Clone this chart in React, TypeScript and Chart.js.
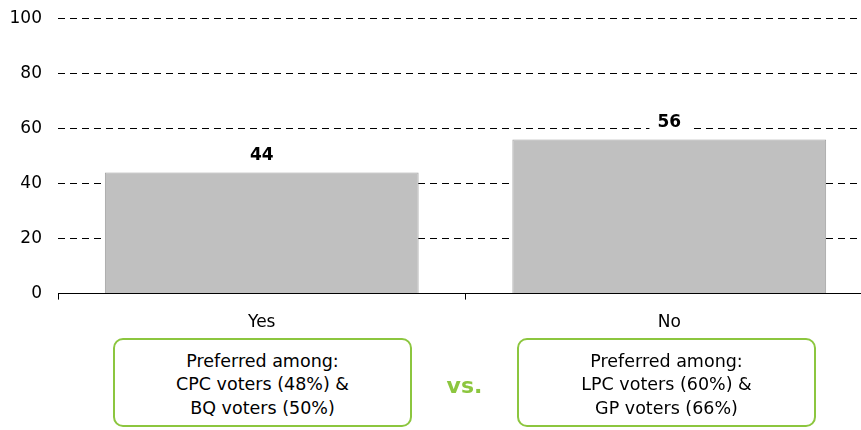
import React, { useEffect, useRef } from "react";
import { Chart, registerables } from "chart.js";

Chart.register(...registerables);

const categories = ["Yes", "No"];
const values = [44, 56];
const yTicks = [0, 20, 40, 60, 80, 100];
const boxLines = [
  ["Preferred among:", "CPC voters (48%) &", "BQ voters (50%)"],
  ["Preferred among:", "LPC voters (60%) &", "GP voters (66%)"],
];
const vsLabel = "vs.";

const FONT = "'DejaVu Sans', Verdana, sans-serif";
const GREEN = "#8cc63f";

const labelPlugin = {
  id: "barLabels",
  afterDatasetsDraw(chart: any) {
    const ctx = chart.ctx;
    const meta = chart.getDatasetMeta(0);
    ctx.save();
    ctx.font = `bold 17px ${FONT}`;
    ctx.textAlign = "center";
    ctx.textBaseline = "middle";
    meta.data.forEach((bar: any, i: number) => {
      const txt = String(values[i]);
      const w = ctx.measureText(txt).width;
      const cy = bar.y - 17;
      ctx.fillStyle = "#ffffff";
      ctx.fillRect(bar.x - w / 2 - 8, cy - 10, w + 16, 20);
      ctx.fillStyle = "#000000";
      ctx.fillText(txt, bar.x, cy);
    });
    ctx.restore();
  },
};

export default function App() {
  const ref = useRef<HTMLCanvasElement>(null);
  useEffect(() => {
    if (!ref.current) return;
    const chart = new Chart(ref.current, {
      type: "bar",
      data: {
        labels: categories,
        datasets: [
          {
            data: values,
            backgroundColor: "#c0c0c0",
            borderColor: "#a0a0a0",
            borderWidth: 1,
            categoryPercentage: 0.77,
            barPercentage: 1,
          },
        ],
      },
      options: {
        responsive: false,
        animation: false,
        maintainAspectRatio: false,
        layout: { padding: { top: 10, right: 0, left: 0, bottom: 0 } },
        plugins: { legend: { display: false }, tooltip: { enabled: false } },
        scales: {
          x: {
            grid: {
              display: true,
              drawOnChartArea: false,
              drawTicks: true,
              tickLength: 6,
              offset: true,
              color: "#000",
            },
            border: { display: true, color: "#000", width: 1 },
            ticks: { color: "#000", font: { family: FONT, size: 17 }, padding: 13 },
          },
          y: {
            min: 0,
            max: 100,
            afterBuildTicks: (scale: any) => {
              scale.ticks = yTicks.map((v) => ({ value: v }));
            },
            afterFit: (scale: any) => {
              scale.width = 58;
            },
            grid: {
              drawTicks: false,
              color: (c: any) => (c.tick && c.tick.value === 0 ? "rgba(0,0,0,0)" : "#000"),
              lineWidth: 1,
            },
            border: { display: false, dash: [7, 5] },
            ticks: { color: "#000", font: { family: FONT, size: 17 }, padding: 16 },
          },
        },
      },
      plugins: [labelPlugin],
    });
    return () => chart.destroy();
  }, []);

  const boxStyle = (left: number): React.CSSProperties => ({
    position: "absolute",
    left,
    top: 338,
    width: 299,
    height: 89,
    boxSizing: "border-box",
    border: `2px solid ${GREEN}`,
    borderRadius: 10,
    display: "flex",
    flexDirection: "column",
    justifyContent: "center",
    alignItems: "center",
    paddingTop: 5,
    fontFamily: FONT,
    fontSize: 17.5,
    lineHeight: "23.5px",
    color: "#000",
    textAlign: "center",
    background: "#fff",
  });

  return (
    <div
      style={{
        position: "absolute",
        left: 0,
        top: 0,
        width: 861,
        height: 430,
        overflow: "hidden",
        background: "#fff",
      }}
    >
      <canvas ref={ref} width={873} height={354} style={{ position: "absolute", left: 0, top: -8 }} />
      <div style={boxStyle(113)}>
        {boxLines[0].map((l, i) => (
          <div key={i}>{l}</div>
        ))}
      </div>
      <div
        style={{
          position: "absolute",
          left: 412,
          width: 105,
          top: 372,
          textAlign: "center",
          fontFamily: FONT,
          fontWeight: "bold",
          fontSize: 22,
          lineHeight: "28px",
          color: GREEN,
        }}
      >
        {vsLabel}
      </div>
      <div style={boxStyle(517)}>
        {boxLines[1].map((l, i) => (
          <div key={i}>{l}</div>
        ))}
      </div>
    </div>
  );
}
